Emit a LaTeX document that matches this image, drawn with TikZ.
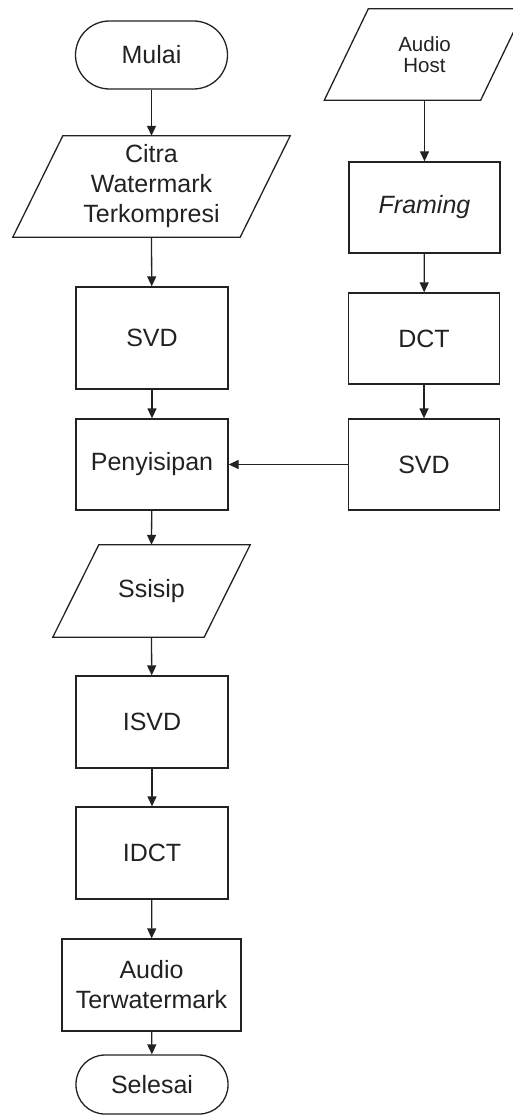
\documentclass[tikz,border=0pt]{standalone}
\usepackage{fontspec}
\setmainfont{Liberation Sans}
\usetikzlibrary{arrows.meta}
\definecolor{ink}{HTML}{222222}
\tikzset{
  base/.style={draw=none, inner sep=0pt, align=center, font=\fontsize{25}{30}\selectfont, text=ink},
  proc/.style={base, draw=ink, line width=1.3pt, minimum width=152pt, minimum height=91pt},
  term/.style={base, draw=ink, line width=1.3pt, minimum width=152pt},
  io/.style={base},
  conn/.style={draw=ink, line width=1.3pt, -{Triangle[length=10pt,width=9pt]}},
  shapeline/.style={draw=ink, line width=1.3pt}
}
\newcommand{\paradraw}[2]{%
  \draw[shapeline] ([xshift=-#2]#1.south west) -- ([xshift=-#2]#1.south east)
    -- ([xshift=#2]#1.north east) -- ([xshift=#2]#1.north west) -- cycle;}
\begin{document}
\begin{tikzpicture}[x=1pt,y=-1pt]
\useasboundingbox (0,0) rectangle (513,1115);
% left column
\node[term, minimum height=68pt, rounded corners=34pt] (mulai) at (151.5,55) {Mulai};
\node[io, minimum width=227pt, minimum height=101pt] (citra) at (151.5,186.5) {Citra\\Watermark\\Terkompresi};
\paradraw{citra}{25pt}
\node[proc, minimum height=102pt] (svda) at (152,338) {SVD};
\node[proc] (peny) at (152,464.5) {Penyisipan};
\node[io, minimum width=151pt, minimum height=92pt] (ssisip) at (151.5,591) {Ssisip};
\paradraw{ssisip}{23pt}
\node[proc, minimum height=92pt] (isvd) at (152,722) {ISVD};
\node[proc, minimum height=92pt] (idct) at (152,853) {IDCT};
\node[proc, minimum width=179pt, minimum height=92pt] (terw) at (151.5,985) {Audio\\Terwatermark};
\node[term, minimum height=59pt, rounded corners=29pt] (selesai) at (152,1084.5) {Selesai};
% right column
\node[io, minimum width=156pt, minimum height=91pt, font=\fontsize{20.5}{21}\selectfont] (host) at (424.5,54.5) {Audio\\Host};
\paradraw{host}{22pt}
\node[proc, minimum width=151pt] (framing) at (424.5,207.5) {\itshape Framing};
\node[proc, minimum width=151pt] (dct) at (424,338.5) {DCT};
\node[proc, minimum width=151pt] (svdb) at (424,464.5) {SVD};
% connectors
\draw[conn] (mulai) -- (citra.north);
\draw[conn] (citra.south) -- (svda);
\draw[conn] (svda) -- (peny);
\draw[conn] (peny) -- (ssisip.north);
\draw[conn] (ssisip.south) -- (isvd);
\draw[conn] (isvd) -- (idct);
\draw[conn] (idct) -- (terw);
\draw[conn] (terw) -- (selesai);
\draw[conn] (host.south) -- (framing);
\draw[conn] (framing) -- (dct);
\draw[conn] (dct) -- (svdb);
\draw[conn] (svdb) -- (peny);
\end{tikzpicture}
\end{document}
